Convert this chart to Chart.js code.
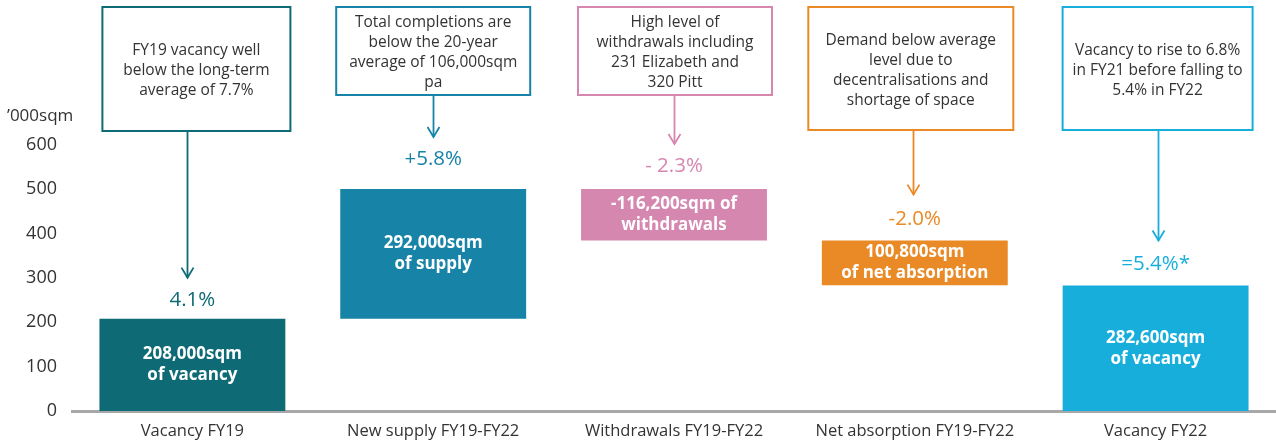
<!DOCTYPE html>
<html>
<head>
<meta charset="utf-8">
<title>Sydney CBD office vacancy FY19–FY22</title>
<script src="https://cdn.jsdelivr.net/npm/chart.js@4"></script>
<style>
  html, body { margin: 0; padding: 0; background: #fff; }
  #wrap { width: 1276px; height: 445px; position: relative; }
</style>
</head>
<body>
<div id="wrap"><canvas id="chart" width="1276" height="445"></canvas></div>
<script>
// Categories along the x axis
const categories = [
  'Vacancy FY19',
  'New supply FY19-FY22',
  'Withdrawals FY19-FY22',
  'Net absorption FY19-FY22',
  'Vacancy FY22'
];

// Movements in '000 sqm: opening stock, changes, closing stock
const openingVacancy = 208.0;
const changes = [292.0, -116.2, -100.8];
const closingVacancy = 282.6;

// Y axis tick values shown
const yTicks = [0, 100, 200, 300, 400, 500, 600];

// Vacancy rate effect of each step
const rateLabels = ['4.1%', '+5.8%', '- 2.3%', '-2.0%', '=5.4%*'];

// Labels written inside each bar
const barLabels = [
  ['208,000sqm', 'of vacancy'],
  ['292,000sqm', 'of supply'],
  ['-116,200sqm of', 'withdrawals'],
  ['100,800sqm', 'of net absorption'],
  ['282,600sqm', 'of vacancy']
];

// Commentary boxes above each bar
const notes = [
  ['FY19 vacancy well', 'below the long-term', 'average of 7.7%'],
  ['Total completions are', 'below the 20-year', 'average of 106,000sqm', 'pa'],
  ['High level of', 'withdrawals including', '231 Elizabeth and', '320 Pitt'],
  ['Demand below average', 'level due to', 'decentralisations and', 'shortage of space'],
  ['Vacancy to rise to 6.8%', 'in FY21 before falling to', '5.4% in FY22']
];

const colors = ['#0e6b75', '#1783a6', '#d687b0', '#ea8a26', '#18aedc'];

// Floating [start, end] ranges built from the running total
const ranges = [];
ranges.push([0, openingVacancy]);
let running = openingVacancy;
changes.forEach(c => {
  const next = Math.round((running + c) * 10) / 10;
  ranges.push([Math.min(running, next), Math.max(running, next)]);
  running = next;
});
ranges.push([0, closingVacancy]);

// Layout of the annotation callouts (pixels)
const calloutStyle = {
  boxTop: 7,
  boxBottom: [131, 95, 95, 130, 130],
  boxWidth: [188, 194, 194, 205, 190],
  boxShift: [4, 0, 1, -4, 2],
  arrowShift: [-5, 0, 0, -2, 2],
  rateGap: [19, 30, 23, 21, 21],
  arrowGap: [41, 52, 45, 46, 45],
  lineHeight: 20
};

const FONT = '"Open Sans", "DejaVu Sans", sans-serif';
const TEXT = '#333333';

const annotations = {
  id: 'annotations',
  afterDatasetsDraw(chart) {
    const ctx = chart.ctx;
    const meta = chart.getDatasetMeta(0);
    const y = chart.scales.y;
    const s = calloutStyle;

    ctx.save();

    // Y axis unit title
    ctx.fillStyle = TEXT;
    ctx.font = '17px ' + FONT;
    ctx.textAlign = 'left';
    ctx.textBaseline = 'middle';
    ctx.fillText('\u2019000sqm', 7, y.getPixelForValue(665));

    meta.data.forEach((bar, i) => {
      const cx = bar.x;
      const top = Math.min(bar.y, bar.base);
      const bottom = Math.max(bar.y, bar.base);
      const col = colors[i];

      // text inside bar
      ctx.fillStyle = '#ffffff';
      ctx.font = 'bold 17px ' + FONT;
      ctx.textAlign = 'center';
      ctx.textBaseline = 'middle';
      const mid = (top + bottom) / 2;
      const lines = barLabels[i];
      lines.forEach((t, k) => {
        ctx.fillText(t, cx, mid + (k - (lines.length - 1) / 2) * 21);
      });

      // rate label above bar
      ctx.fillStyle = col;
      ctx.font = '20.5px ' + FONT;
      ctx.fillText(rateLabels[i], cx, top - s.rateGap[i]);

      // callout box
      const bw = s.boxWidth[i];
      const bx = cx + s.boxShift[i] - bw / 2;
      const by = s.boxTop;
      const bh = s.boxBottom[i] - s.boxTop;
      ctx.strokeStyle = col;
      ctx.lineWidth = 2;
      ctx.strokeRect(bx, by, bw, bh);

      ctx.fillStyle = TEXT;
      ctx.font = '15.5px ' + FONT;
      const nl = notes[i];
      const bmid = by + bh / 2 + 2;
      nl.forEach((t, k) => {
        ctx.fillText(t, bx + bw / 2, bmid + (k - (nl.length - 1) / 2) * s.lineHeight);
      });

      // arrow from box to rate label
      const ax = Math.round(cx + s.arrowShift[i]) + 0.5;
      const tip = top - s.arrowGap[i];
      ctx.strokeStyle = col;
      ctx.lineWidth = 1.8;
      ctx.beginPath();
      ctx.moveTo(ax, by + bh + 1);
      ctx.lineTo(ax, tip);
      ctx.stroke();
      ctx.beginPath();
      ctx.moveTo(ax - 6, tip - 10);
      ctx.lineTo(ax, tip);
      ctx.lineTo(ax + 6, tip - 10);
      ctx.stroke();
    });

    ctx.restore();
  }
};

new Chart(document.getElementById('chart'), {
  type: 'bar',
  data: {
    labels: categories,
    datasets: [{
      data: ranges,
      backgroundColor: colors,
      borderWidth: 0,
      borderSkipped: false,
      barPercentage: 0.772,
      categoryPercentage: 1
    }]
  },
  options: {
    responsive: false,
    animation: false,
    layout: { padding: { top: 7, right: 0, bottom: 0, left: 0 } },
    plugins: {
      legend: { display: false },
      tooltip: { enabled: false }
    },
    scales: {
      x: {
        grid: { display: false, drawTicks: false },
        border: { display: true, color: '#a8a8a8', width: 3 },
        ticks: { color: TEXT, font: { family: FONT, size: 16.5 }, padding: 10, maxRotation: 0 },
        afterFit(scale) { scale.height = 34; scale.paddingLeft = 0; scale.paddingRight = 0; }
      },
      y: {
        min: 0,
        max: 910,
        grid: { display: false, drawTicks: false },
        border: { display: false },
        ticks: { color: TEXT, font: { family: FONT, size: 18 }, padding: 15, stepSize: 100 },
        afterBuildTicks(scale) {
          scale.ticks = yTicks.map(v => ({ value: v }));
        },
        afterFit(scale) {
          scale.width = 72;
          scale.paddingTop = 0;
          scale.paddingBottom = 0;
        }
      }
    }
  },
  plugins: [annotations]
});
</script>
</body>
</html>
